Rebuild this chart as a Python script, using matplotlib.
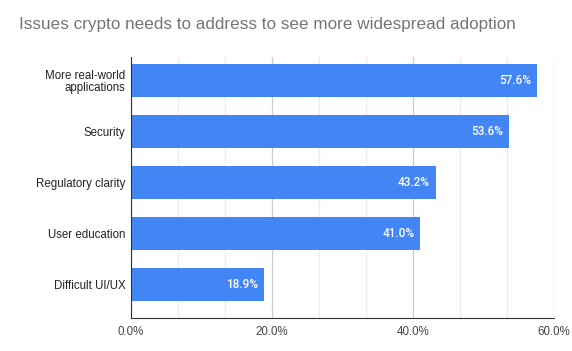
import matplotlib.pyplot as plt
import matplotlib.ticker as mticker

# data
categories = ['More real-world\napplications', 'Security', 'Regulatory clarity',
              'User education', 'Difficult UI/UX']
values = [57.6, 53.6, 43.2, 41.0, 18.9]
x_ticks = [0, 20, 40, 60]

plt.rcParams['font.family'] = ['Liberation Sans', 'DejaVu Sans']

fig = plt.figure(figsize=(5.72, 3.51), dpi=100)
ax = fig.add_axes([0.229, 0.094, 0.7395, 0.7436])

ypos = list(range(len(categories)))
bars = ax.barh(ypos, values, height=0.66, color='#4285f4', zorder=3)

# value labels inside bar ends
for bar, v in zip(bars, values):
    ax.annotate(f'{v:.1f}%', xy=(bar.get_width(), bar.get_y() + bar.get_height() / 2),
                xytext=(-4, 0), textcoords='offset points', ha='right', va='center',
                color='white', fontsize=8.5, family='Roboto', fontweight='medium', zorder=4)

ax.set_xlim(0, 60)
ax.set_ylim(4.66, -0.46)
ax.set_xticks(x_ticks)
ax.xaxis.set_minor_locator(mticker.MultipleLocator(20 / 3))
ax.xaxis.set_major_formatter(mticker.FuncFormatter(lambda x, _: f'{x:.1f}%'))
ax.set_yticks(ypos)
ax.set_yticklabels(categories, fontsize=8.3, color='#222222', linespacing=1.05)

ax.grid(axis='x', which='major', color='#cccccc', linewidth=0.9, zorder=0)
ax.grid(axis='x', which='minor', color='#ececec', linewidth=0.9, zorder=0)
ax.tick_params(axis='both', which='both', length=0)
ax.tick_params(axis='x', labelsize=8.3, labelcolor='#444444', pad=6)
ax.tick_params(axis='y', pad=4)

for s in ['top', 'right']:
    ax.spines[s].set_visible(False)
ax.spines['left'].set_color('#333333')
ax.spines['bottom'].set_color('#333333')
ax.spines['left'].set_zorder(5)

fig.text(0.033, 0.929, 'Issues crypto needs to address to see more widespread adoption',
         fontsize=12.3, color='#757575', ha='left', va='center')

plt.savefig('out.png', dpi=100)
